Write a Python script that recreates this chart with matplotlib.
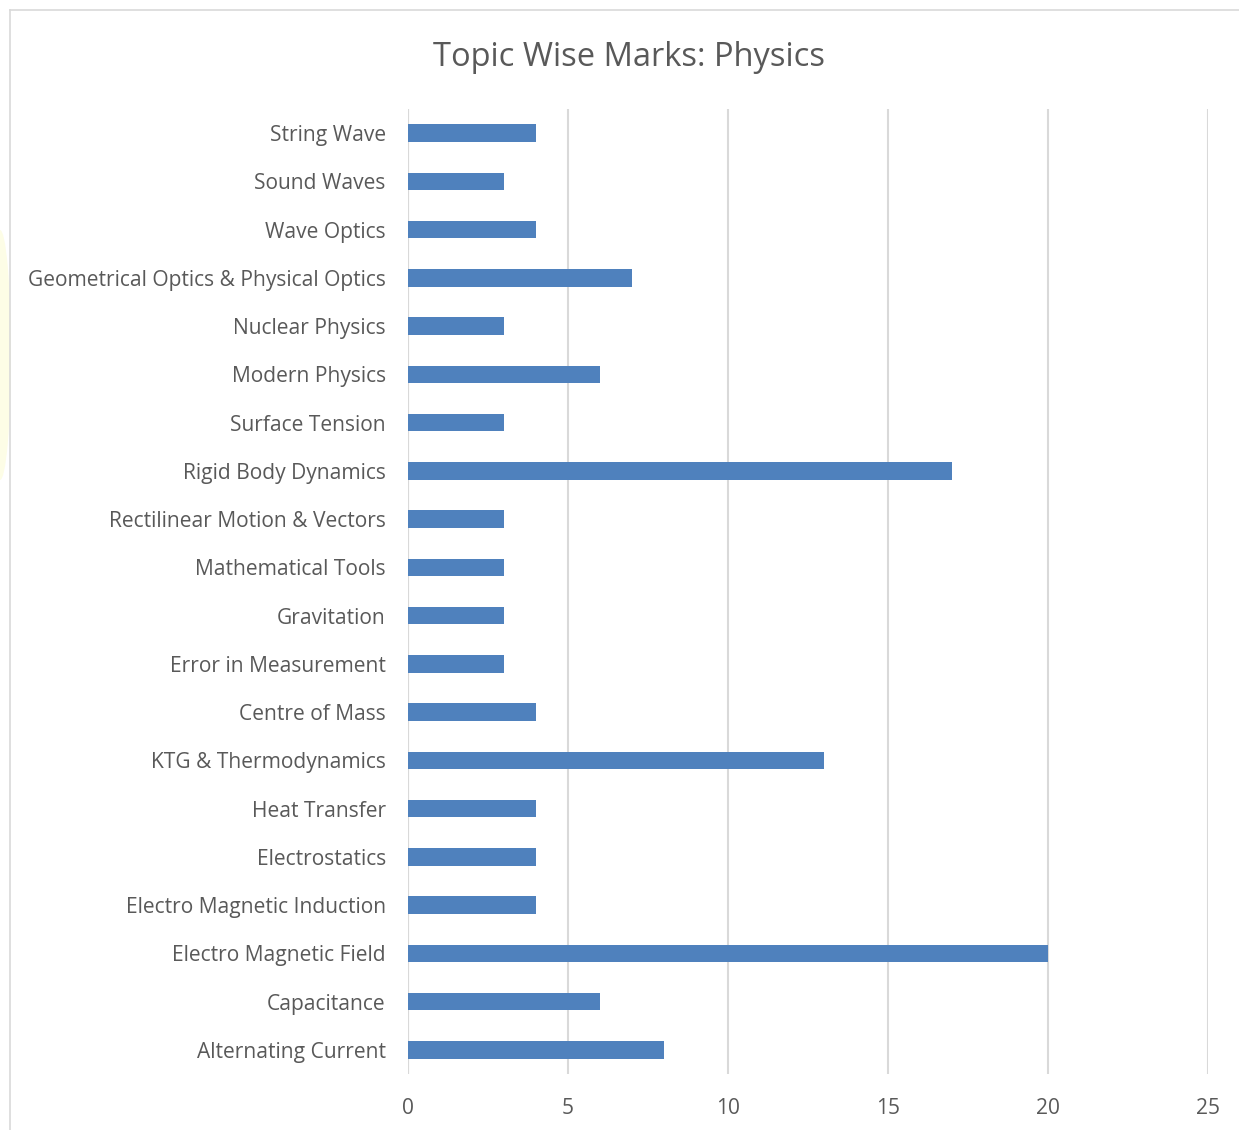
import matplotlib
matplotlib.use("Agg")
import matplotlib.pyplot as plt
from matplotlib.patches import Ellipse
from matplotlib.lines import Line2D

topics = ["String Wave", "Sound Waves", "Wave Optics", "Geometrical Optics & Physical Optics",
          "Nuclear Physics", "Modern Physics", "Surface Tension", "Rigid Body Dynamics",
          "Rectilinear Motion & Vectors", "Mathematical Tools", "Gravitation",
          "Error in Measurement", "Centre of Mass", "KTG & Thermodynamics", "Heat Transfer",
          "Electrostatics", "Electro Magnetic Induction", "Electro Magnetic Field",
          "Capacitance", "Alternating Current"]
marks = [4, 3, 4, 7, 3, 6, 3, 17, 3, 3, 3, 3, 4, 13, 4, 4, 4, 20, 6, 8]
xticks = [0, 5, 10, 15, 20, 25]

W, H = 1239, 1130
fig = plt.figure(figsize=(W / 100, H / 100), dpi=100)
plt.rcParams['font.family'] = ['Open Sans', 'DejaVu Sans']

# faint watermark tint on left edge
fig.patches.append(Ellipse((0 / W, 1 - 355 / H), 22 / W, 250 / H, transform=fig.transFigure,
                           facecolor="#fdfde6", edgecolor="none", zorder=0))
# chart border (left and top)
fig.add_artist(Line2D([10 / W, 10 / W], [0, 1 - 10 / H], transform=fig.transFigure,
                      color="#d9d9d9", lw=1.2))
fig.add_artist(Line2D([10 / W, 1], [1 - 10 / H, 1 - 10 / H], transform=fig.transFigure,
                      color="#d9d9d9", lw=1.2))

left, right = 408 / W, 1208 / W
top, bottom = 1 - 109 / H, 1 - 1074 / H
ax = fig.add_axes([left, bottom, right - left, top - bottom])

n = len(topics)
ypos = list(range(n))
ax.barh(ypos, marks, height=0.36, color="#4f81bd", zorder=3)
ax.set_ylim(n - 0.5, -0.5)
ax.set_xlim(0, 25)
ax.set_xticks(xticks)
ax.set_yticks(ypos)
ax.set_yticklabels(topics)
ax.xaxis.grid(True, color="#d9d9d9", lw=1.5, zorder=0)
for s in ax.spines.values():
    s.set_visible(False)
ax.tick_params(axis="both", length=0, labelsize=15.1, colors="#595959")
ax.tick_params(axis="y", pad=16)
ax.tick_params(axis="x", pad=17)
ax.axvline(0, color="#d9d9d9", lw=1.5, zorder=2)

fig.text(629 / W, 1 - 58 / H, "Topic Wise Marks: Physics", ha="center", va="center",
         fontsize=23.5, color="#595959")

fig.savefig("out.png", dpi=100)
